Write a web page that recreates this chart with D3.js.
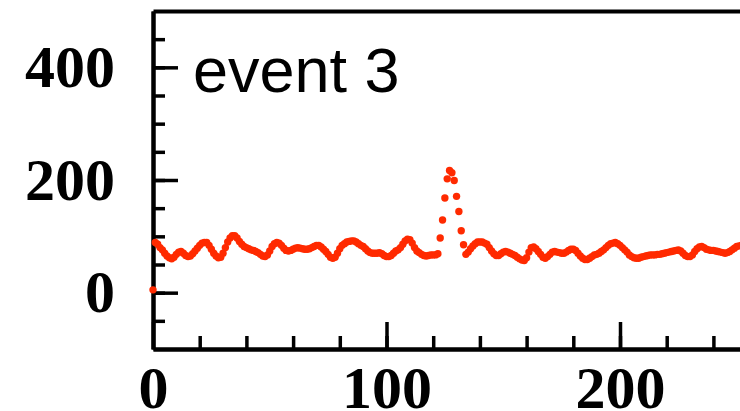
<!DOCTYPE html>
<html>
<head>
<meta charset="utf-8">
<script src="https://cdn.jsdelivr.net/npm/d3@7"></script>
<style>
  body { margin: 0; background: #fff; }
  svg { display: block; overflow: hidden; }
</style>
</head>
<body>
<svg id="chart" width="740" height="411"></svg>
<script>
// signal per channel (one value per x unit, 0..253)
let signal = [
  5, 89, 86, 80, 76, 70, 65, 62, 60, 63,
  68, 72, 73, 70, 66, 64, 65, 69, 74, 79,
  84, 88, 89, 89, 84, 77, 70, 65, 62, 63,
  70, 80, 90, 97, 101, 101, 97, 91, 86, 82,
  80, 78, 76, 75, 73, 71, 68, 65, 64, 67,
  74, 82, 87, 89, 88, 84, 79, 75, 74, 75,
  77, 79, 80, 79, 78, 77, 77, 78, 80, 82,
  84, 84, 81, 77, 73, 68, 63, 61, 63, 70,
  78, 84, 87, 90, 91, 92, 92, 90, 87, 84,
  82, 78, 74, 71, 70, 70, 70, 71, 69, 66,
  64, 64, 66, 70, 74, 76, 80, 86, 92, 95,
  94, 88, 80, 74, 71, 68, 66, 65, 66, 67,
  67, 67, 69, 97, 129, 168, 202, 217, 213, 199,
  171, 144, 110, 85, 68, 72, 78, 83, 87, 90,
  90, 90, 88, 86, 80, 74, 69, 66, 66, 69,
  72, 73, 72, 70, 68, 66, 63, 60, 58, 57,
  62, 72, 80, 81, 78, 73, 68, 63, 61, 64,
  68, 72, 73, 72, 71, 70, 70, 72, 75, 77,
  77, 75, 70, 65, 61, 59, 59, 61, 64, 67,
  68, 70, 73, 76, 80, 84, 87, 88, 89, 87,
  84, 80, 76, 72, 67, 64, 62, 61, 61, 63,
  64, 65, 66, 67, 67, 67, 68, 68, 69, 70,
  71, 72, 73, 74, 75, 76, 74, 70, 66, 64,
  64, 67, 73, 78, 81, 82, 80, 77, 76, 75,
  75, 74, 73, 72, 71, 70, 71, 73, 76, 79,
  82, 83, 84, 85
];
let xMajorTicks = [0, 100, 200, 300];
let yMajorTicks = [0, 200, 400];
let label = "event 3";

let svg = d3.select("#chart");

// Scales:
let x = d3.scaleLinear().domain([0, 300]).range([153, 853.5]);
let y = d3.scaleLinear().domain([-100, 500]).range([349, 11]);

// Axes (ticks point inward):
let yMinor = d3.axisLeft(y).tickValues(d3.range(-50, 500, 50))
  .tickSize(-12).tickSizeOuter(0).tickFormat("");
let yMajor = d3.axisLeft(y).tickValues(yMajorTicks)
  .tickSize(-25).tickSizeOuter(0).tickPadding(38).tickFormat(d3.format("d"));
let xMinor = d3.axisBottom(x).tickValues(d3.range(20, 300, 20))
  .tickSize(-13).tickSizeOuter(0).tickFormat("");
let xMajor = d3.axisBottom(x).tickValues(xMajorTicks)
  .tickSize(-27).tickSizeOuter(0).tickPadding(16).tickFormat(d3.format("d"));
let topAxis = d3.axisTop(x).tickValues([]).tickSizeOuter(0);

svg.append("g").attr("transform", `translate(${x(0)},0)`).call(yMinor);
svg.append("g").attr("transform", `translate(${x(0)},0)`).call(yMajor);
svg.append("g").attr("transform", `translate(0,${y(-100)})`).call(xMinor);
svg.append("g").attr("transform", `translate(0,${y(-100)})`).call(xMajor);
svg.append("g").attr("transform", `translate(0,${y(500)})`).call(topAxis);

svg.selectAll(".domain")
  .attr("stroke", "#000")
  .attr("stroke-width", 4);
svg.selectAll(".tick line")
  .attr("stroke", "#000")
  .attr("stroke-width", 3.5);
svg.selectAll(".tick text")
  .attr("fill", "#000")
  .style("font-family", "'Liberation Serif', 'Times New Roman', serif")
  .style("font-weight", "bold")
  .style("font-size", "60px");

// points
svg.append("g")
  .selectAll("circle")
  .data(signal)
  .enter()
  .append("circle")
  .attr("cx", (d, i) => x(i))
  .attr("cy", d => y(d))
  .attr("r", 3.7)
  .attr("fill", "#ff2a00");

// event label
svg.append("text")
  .attr("x", 193)
  .attr("y", 92)
  .style("font-family", "'Liberation Sans', Arial, sans-serif")
  .style("font-size", "63px")
  .attr("fill", "#000")
  .text(label);
</script>
</body>
</html>
